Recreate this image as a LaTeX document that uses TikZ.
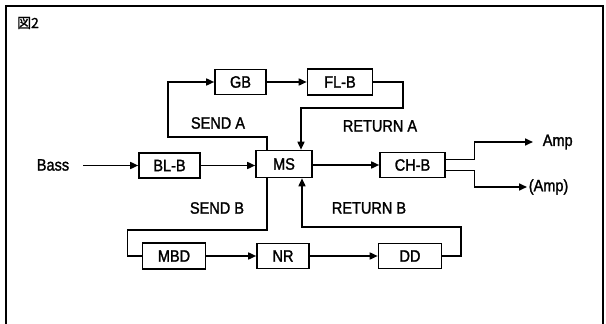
\documentclass[tikz,border=0pt]{standalone}
\usepackage{fontspec}
\setmainfont[FakeBold=1.5,FakeStretch=0.88]{Liberation Sans}
\newfontfamily\cjk[FakeBold=1.2]{Noto Sans CJK JP}
\usetikzlibrary{arrows.meta}
\begin{document}
\begin{tikzpicture}[x=1pt,y=-1pt,
  line width=1.6pt,
  blk/.style={draw,minimum height=25pt,inner sep=0pt,font=\fontsize{16.5}{18}\selectfont},
  lbl/.style={inner sep=0pt,font=\fontsize{16.5}{18}\selectfont},
  arr/.style={-{Triangle[length=8pt,width=7pt]}}]
\useasboundingbox (0,0) rectangle (606,324);
\draw (6,324) -- (6,6) -- (603,6) -- (603,324);
\node[inner sep=0pt,font=\cjk\fontsize{14}{16}\selectfont] (title) at (28,23) {図2};
% blocks
\node[blk,minimum width=51pt] (gb) at (240.5,82) {GB};
\node[blk,minimum width=65pt,minimum height=26pt] (flb) at (340,82) {FL-B};
\node[blk,minimum width=61pt] (blb) at (169.5,165.5) {BL-B};
\node[blk,minimum width=56pt,minimum height=27pt] (ms) at (284,164) {MS};
\node[blk,minimum width=65pt] (chb) at (412.5,165) {CH-B};
\node[blk,minimum width=63pt,minimum height=26pt] (mbd) at (174,256) {MBD};
\node[blk,minimum width=52pt] (nr) at (283,256) {NR};
\node[blk,minimum width=63pt] (dd) at (410,256) {DD};
% labels
\node[lbl] (bass) at (53,165) {Bass};
\coordinate (bstart) at (83,165.5);
\node[lbl] (senda) at (218,123) {SEND A};
\node[lbl] (returna) at (380,126) {RETURN A};
\node[lbl] (sendb) at (217,208) {SEND B};
\node[lbl] (returnb) at (369,208) {RETURN B};
\coordinate (tip1) at (533,142);
\coordinate (tip2) at (527,187);
\node[lbl,anchor=west] (amp1) at ([xshift=9pt]tip1) {Amp};
\node[lbl,anchor=west] (amp2) at ([xshift=1pt]tip2) {(Amp)};
% connectors
\draw[arr] (bstart) -- (blb);
\draw[arr] (blb) -- (blb -| ms.west);
\draw[arr] (ms.east |- chb) -- (chb);
\draw[arr] (gb) -- (flb);
\draw[arr] (mbd) -- (nr);
\draw[arr] (nr) -- (dd);
\draw[arr] ([xshift=-17pt]ms.north) |- ++(-99,-12.5) |- (gb.west);
\draw[arr] (flb.east) -| ++(29.5,26) -| ([xshift=17pt]ms.north);
\draw ([xshift=-17pt]ms.south) |- ++(-139.5,51.5) |- (mbd.west);
\draw[arr] (dd.east) -| ++(18.5,-29) -| ([xshift=18pt]ms.south);
\draw[arr] ([yshift=5.5pt]chb.east) -- ++(28.5,0) |- (tip1);
\draw[arr] ([yshift=-5.5pt]chb.east) -- ++(28.5,0) |- (tip2);
\end{tikzpicture}
\end{document}
